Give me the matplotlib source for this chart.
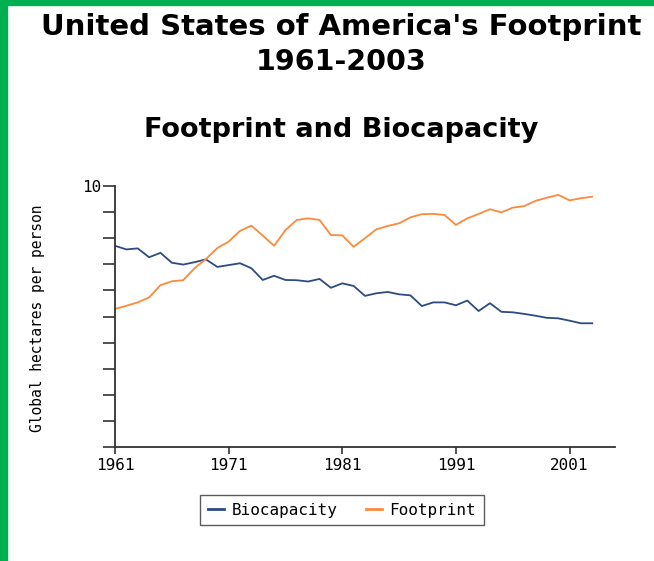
import matplotlib.pyplot as plt
from matplotlib.patches import Rectangle

years = list(range(1961, 2004))

biocapacity = [7.71, 7.57, 7.61, 7.27, 7.44, 7.06, 6.99, 7.08, 7.19, 6.90,
               6.97, 7.04, 6.85, 6.40, 6.56, 6.40, 6.39, 6.34, 6.44, 6.10,
               6.27, 6.17, 5.79, 5.89, 5.94, 5.85, 5.81, 5.40, 5.54, 5.54,
               5.43, 5.61, 5.21, 5.51, 5.18, 5.16, 5.10, 5.03, 4.95, 4.93,
               4.84, 4.74, 4.74]

footprint = [5.29, 5.41, 5.54, 5.73, 6.20, 6.35, 6.39, 6.85, 7.20, 7.62,
             7.87, 8.28, 8.48, 8.10, 7.71, 8.31, 8.70, 8.76, 8.70, 8.12,
             8.11, 7.67, 8.00, 8.34, 8.47, 8.57, 8.80, 8.92, 8.93, 8.89,
             8.51, 8.76, 8.93, 9.11, 8.99, 9.17, 9.23, 9.43, 9.55, 9.66,
             9.45, 9.53, 9.59]

xtick_years = [1961, 1971, 1981, 1991, 2001]

blue = "#2d4b80"
orange = "#fb8a3c"
axis_grey = "#333333"
mono = "DejaVu Sans Mono"
sans = "DejaVu Sans"

def main():
    W, H = 654, 561
    fig = plt.figure(figsize=(W / 100, H / 100), dpi=100)
    fig.patch.set_facecolor("white")

    # green frame on left and top edge
    fig.patches.append(Rectangle((0, 0), 7 / W, 1, transform=fig.transFigure,
                                 color="#00b050", zorder=0))
    fig.patches.append(Rectangle((0, 1 - 5 / H), 1, 5 / H, transform=fig.transFigure,
                                 color="#00b050", zorder=0))

    #==================================================================#
    ax = fig.add_axes([115 / W, 1 - 447 / H, 500 / W, 261 / H])
    ax.plot(years, biocapacity, color=blue, linewidth=1.3, label="Biocapacity")
    ax.plot(years, footprint, color=orange, linewidth=1.3, label="Footprint")
    ax.set_xlim(1961, 2005)
    ax.set_ylim(0, 10)

    for s in ["top", "right"]:
        ax.spines[s].set_visible(False)
    for s in ["left", "bottom"]:
        ax.spines[s].set_color(axis_grey)
        ax.spines[s].set_linewidth(1.3)

    ax.set_yticks(range(0, 11))
    ax.set_yticklabels([""] * 10 + ["10"], fontfamily=mono, fontsize=11.5)
    ax.set_xticks(xtick_years)
    ax.set_xticklabels([str(y) for y in xtick_years], fontfamily=mono, fontsize=11.5)
    ax.tick_params(axis="y", length=8.5, width=1.2, color=axis_grey, pad=1)
    ax.tick_params(axis="x", length=5, width=1.2, color=axis_grey, pad=3)

    fig.text(38 / W, 1 - 318 / H, "Global hectares per person", rotation=90,
             ha="center", va="center", fontfamily=mono, fontsize=10.5)

    #==================================================================#
    fig.text(341 / W, 1 - 27 / H, "United States of America's Footprint",
             ha="center", va="center", fontfamily=sans, fontweight="bold", fontsize=21)
    fig.text(341 / W, 1 - 62 / H, "1961-2003",
             ha="center", va="center", fontfamily=sans, fontweight="bold", fontsize=20.5)
    fig.text(341 / W, 1 - 130 / H, "Footprint and Biocapacity",
             ha="center", va="center", fontfamily=sans, fontweight="bold", fontsize=19.5)

    leg = fig.legend(loc="center", bbox_to_anchor=(342 / W, 1 - 510 / H), ncol=2,
                     frameon=True, fancybox=False, shadow=False,
                     prop={"family": mono, "size": 11.5},
                     handlelength=1.0, handletextpad=0.45, columnspacing=1.8,
                     borderpad=0.5, borderaxespad=0)
    leg.get_frame().set_edgecolor(axis_grey)
    leg.get_frame().set_linewidth(1.0)
    for line in leg.get_lines():
        line.set_linewidth(2)

    fig.savefig("out.png", dpi=100)

if __name__ == "__main__":
    main()
